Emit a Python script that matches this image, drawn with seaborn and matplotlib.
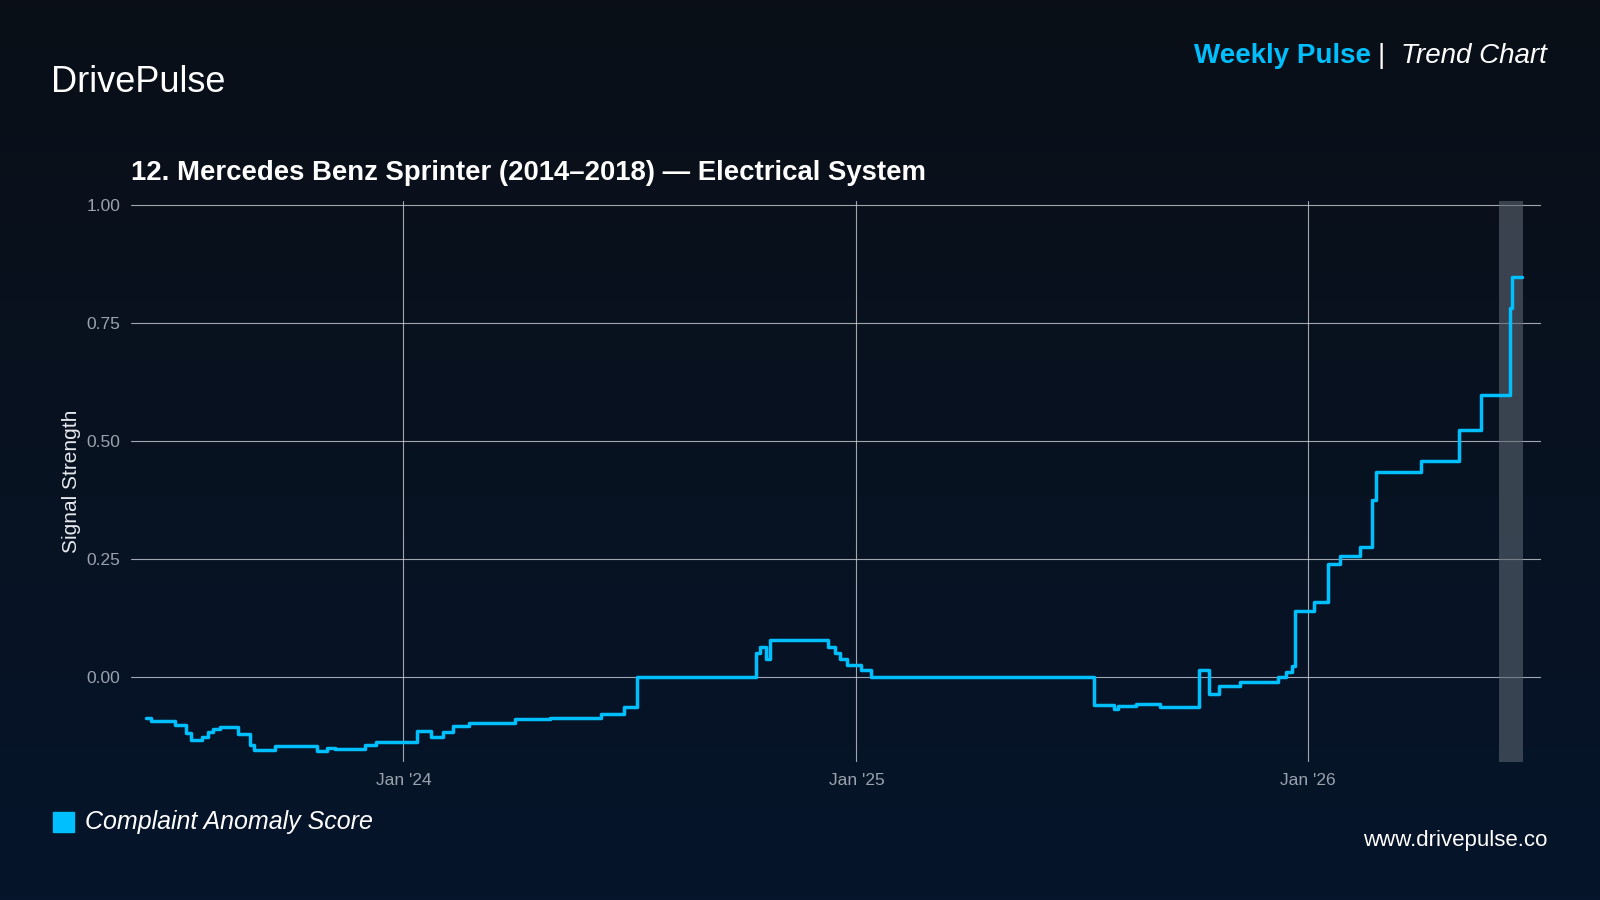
import matplotlib
matplotlib.use("Agg")
import matplotlib.pyplot as plt
import seaborn as sns
import pandas as pd
import numpy as np
from matplotlib.colors import LinearSegmentedColormap

dates = ["2023-06-07","2023-06-11","2023-06-30","2023-07-09","2023-07-13","2023-07-22","2023-07-27",
         "2023-07-31","2023-08-06","2023-08-20","2023-08-30","2023-09-02","2023-09-19","2023-10-23",
         "2023-10-31","2023-11-07","2023-12-01","2023-12-10","2024-01-12","2024-01-23","2024-02-02",
         "2024-02-10","2024-02-23","2024-03-31","2024-04-28","2024-06-09","2024-06-27","2024-07-08",
         "2024-10-12","2024-10-15","2024-10-20","2024-10-23","2024-12-09","2024-12-15","2024-12-19",
         "2024-12-24","2025-01-05","2025-01-13","2025-07-12","2025-07-28","2025-07-31","2025-08-15",
         "2025-09-03","2025-10-05","2025-10-13","2025-10-21","2025-11-07","2025-12-08","2025-12-14",
         "2025-12-19","2025-12-21","2026-01-06","2026-01-17","2026-01-27","2026-02-12","2026-02-22",
         "2026-02-25","2026-04-02","2026-05-03","2026-05-21","2026-06-13","2026-06-15","2026-06-23"]
values = [-0.087,-0.095,-0.102,-0.119,-0.134,-0.128,-0.118,
          -0.112,-0.108,-0.121,-0.145,-0.156,-0.147,-0.158,
          -0.152,-0.154,-0.145,-0.139,-0.115,-0.128,-0.117,
          -0.104,-0.098,-0.091,-0.089,-0.080,-0.065,0.0,
          0.05,0.063,0.037,0.078,0.063,0.050,0.037,
          0.024,0.013,0.0,-0.061,-0.069,-0.063,-0.059,
          -0.065,0.013,-0.037,-0.020,-0.011,0.0,0.010,
          0.022,0.139,0.158,0.239,0.256,0.275,0.375,
          0.434,0.458,0.523,0.597,0.783,0.848,0.848]
band = ["2026-06-04", "2026-06-24"]
xticks = ["2024-01-01", "2025-01-01", "2026-01-01"]
xticklabels = ["Jan '24", "Jan '25", "Jan '26"]
yticks = [0.0, 0.25, 0.5, 0.75, 1.0]

df = pd.DataFrame({"date": pd.to_datetime(dates), "value": values})

sns.set_theme(style="dark")
plt.rcParams['font.family'] = ['Liberation Sans', 'DejaVu Sans']
fig = plt.figure(figsize=(16, 9), dpi=100)
bg = fig.add_axes([0, 0, 1, 1], zorder=-10)
grad = np.linspace(0, 1, 256).reshape(-1, 1)
cmap = LinearSegmentedColormap.from_list("bg", ["#0a0f17", "#06152b"])
bg.imshow(grad, aspect="auto", cmap=cmap, extent=[0, 1, 0, 1])
bg.axis("off")

ax = fig.add_axes([0.082, 0.153, 0.881, 0.624])
ax.set_facecolor("none")
sns.lineplot(data=df, x="date", y="value", ax=ax, color="#00bfff", linewidth=2.5,
             drawstyle="steps-post")
ax.axvspan(pd.Timestamp(band[0]), pd.Timestamp(band[1]), color="#5a6470", alpha=0.6, lw=0)
ax.set_xlim(pd.Timestamp("2023-05-26"), pd.Timestamp("2026-07-08"))
ax.set_ylim(-0.182, 1.01)
ax.set_yticks(yticks)
ax.set_yticklabels([f"{v:.2f}" for v in yticks])
ax.set_xticks(pd.to_datetime(xticks))
ax.set_xticklabels(xticklabels)
ax.grid(True, color="#c8ccd2", linewidth=0.8, alpha=0.8)
for s in ax.spines.values():
    s.set_visible(False)
ax.tick_params(colors="#9aa3ad", labelsize=12.5, length=0, pad=8)
ax.tick_params(axis="x", length=6, color="#9aa3ad", direction="in")
ax.set_xlabel("")
ax.set_ylabel("Signal Strength", color="#e6e9ee", fontsize=15, labelpad=4)

fig.text(0.082, 0.793, "12. Mercedes Benz Sprinter (2014\u20132018) \u2014 Electrical System",
         color="white", fontsize=19.8, fontweight="bold", va="bottom")
fig.text(0.032, 0.908, "DrivePulse", color="white", fontsize=26, va="center")
fig.text(0.857, 0.938, "Weekly Pulse", color="#00bfff", fontsize=20, fontweight="bold",
         ha="right", va="center")
fig.text(0.861, 0.938, "|", color="white", fontsize=20, ha="left", va="center")
fig.text(0.967, 0.938, "Trend Chart", color="white", fontsize=20, style="italic",
         ha="right", va="center")
fig.patches.append(plt.Rectangle((0.033, 0.076), 0.013, 0.022, color="#00bfff",
                                 transform=fig.transFigure, figure=fig))
fig.text(0.053, 0.087, "Complaint Anomaly Score", color="white", fontsize=18,
         style="italic", va="center")
fig.text(0.967, 0.066, "www.drivepulse.co", color="white", fontsize=16, ha="right", va="center")
fig.savefig("out.png", dpi=100)
